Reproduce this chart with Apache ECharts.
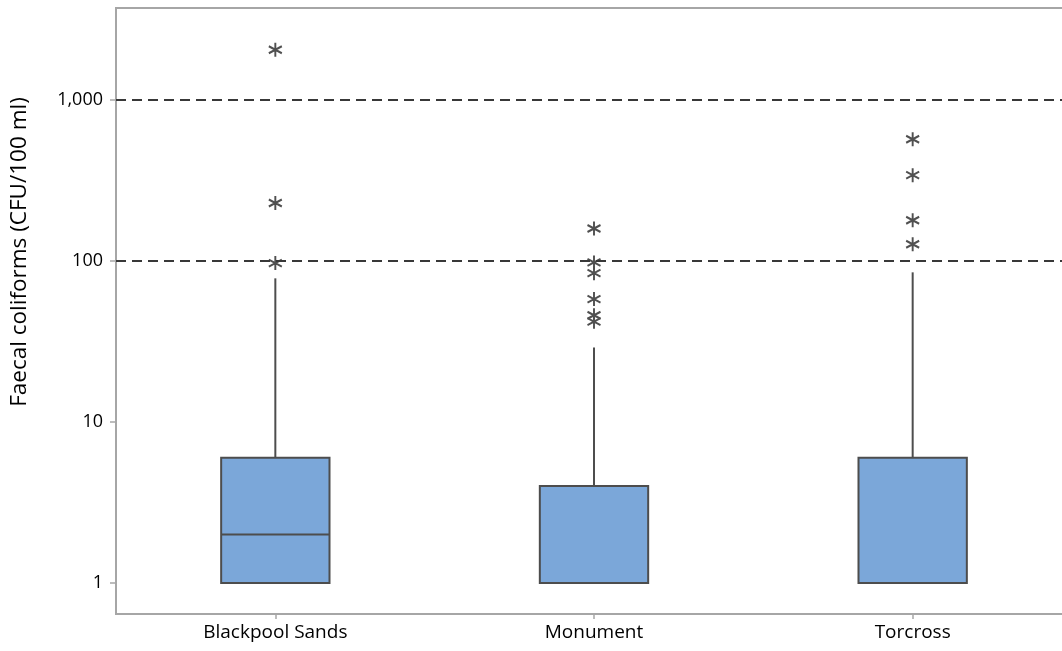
<!DOCTYPE html>
<html>
<head>
<meta charset="utf-8">
<style>
  html, body { margin: 0; padding: 0; background: #fff; overflow: hidden; }
  #chart { width: 1080px; height: 651px; }
</style>
<script src="https://cdn.jsdelivr.net/npm/echarts@6/dist/echarts.min.js"></script>
</head>
<body>
<div id="chart"></div>
<script>
// Sampling sites along the beach
const sites = ['Blackpool Sands', 'Monument', 'Torcross'];

// Box statistics per site: [lower whisker, Q1, median, Q3, upper whisker]
const boxStats = [
  [1, 1, 2, 6, 78],
  [1, 1, 1, 4, 29],
  [1, 1, 1, 6, 85]
];

// Outlying samples per site (CFU/100 ml)
const outliersBlackpool = [2050, 229, 97];
const outliersMonument = [159, 98, 84, 58, 46, 42];
const outliersTorcross = [570, 341, 179, 127];

// Guideline thresholds and labelled ticks on the log axis
const thresholds = [100, 1000];
const yTicks = [1, 10, 100, 1000];

const FONT = '"Open Sans", "Liberation Sans", sans-serif';
const FRAME = '#a6a6a6';
const INK = '#4d4d4d';

const boxData = boxStats.map((s, i) => [i].concat(s));
const outlierData = []
  .concat(outliersBlackpool.map(v => [0, v]))
  .concat(outliersMonument.map(v => [1, v]))
  .concat(outliersTorcross.map(v => [2, v]));

// Six-armed asterisk used for outliers
const asterisk = 'path://M0,-10L0,10M-8.66,-5L8.66,5M-8.66,5L8.66,-5';

function renderBox(params, api) {
  const idx = api.value(0);
  const lo = api.coord([idx, api.value(1)]);
  const q1 = api.coord([idx, api.value(2)]);
  const med = api.coord([idx, api.value(3)]);
  const q3 = api.coord([idx, api.value(4)]);
  const hi = api.coord([idx, api.value(5)]);
  const w = api.size([1, 0])[0] * 0.34;
  const x0 = q1[0] - w / 2;
  const stroke = { stroke: INK, lineWidth: 2, fill: null };
  const children = [
    { type: 'line', shape: { x1: q3[0], y1: q3[1], x2: hi[0], y2: hi[1] }, style: stroke },
    { type: 'line', shape: { x1: lo[0], y1: lo[1], x2: q1[0], y2: q1[1] }, style: stroke },
    { type: 'rect', shape: { x: x0, y: q3[1], width: w, height: q1[1] - q3[1] },
      style: { fill: '#7ba7d9', stroke: INK, lineWidth: 2 } },
    { type: 'line', shape: { x1: x0, y1: med[1], x2: x0 + w, y2: med[1] }, style: stroke }
  ];
  return { type: 'group', children: children };
}

const chart = echarts.init(document.getElementById('chart'), null, { renderer: 'canvas' });

chart.setOption({
  animation: false,
  backgroundColor: '#ffffff',
  grid: {
    left: 116, top: 8, width: 956, height: 606,
    show: true, borderColor: FRAME, borderWidth: 2, backgroundColor: 'transparent'
  },
  graphic: [{
    type: 'text',
    x: 20, y: 252,
    rotation: Math.PI / 2,
    style: {
      text: 'Faecal coliforms (CFU/100 ml)',
      font: '22.5px ' + FONT,
      fill: '#000',
      textAlign: 'center',
      textVerticalAlign: 'middle'
    }
  }],
  xAxis: {
    type: 'category',
    data: sites,
    boundaryGap: true,
    axisLine: { show: true, lineStyle: { color: FRAME, width: 2 } },
    axisTick: { show: true, alignWithLabel: true, length: 5, lineStyle: { color: FRAME, width: 1.5 } },
    axisLabel: { color: '#000', fontFamily: FONT, fontSize: 19, margin: 9 },
    splitLine: { show: false }
  },
  yAxis: {
    type: 'log',
    logBase: 10,
    min: 0.642,
    max: 3725,
    axisLine: { show: true, lineStyle: { color: FRAME, width: 2 } },
    axisTick: { show: true, length: 6, customValues: yTicks, lineStyle: { color: FRAME, width: 1.5 } },
    axisLabel: {
      customValues: yTicks,
      color: '#000', fontFamily: FONT, fontSize: 18, margin: 13,
      formatter: v => Number(v).toLocaleString('en-US')
    },
    splitLine: { show: false }
  },
  series: [
    {
      type: 'custom',
      data: boxData,
      renderItem: renderBox,
      encode: { x: 0, y: [1, 2, 3, 4, 5] },
      silent: true,
      z: 3
    },
    {
      type: 'scatter',
      data: outlierData,
      symbol: asterisk,
      symbolSize: [13, 14],
      itemStyle: { color: 'none', borderColor: '#505050', borderWidth: 2, opacity: 1 },
      silent: true,
      z: 4,
      markLine: {
        silent: true,
        symbol: 'none',
        label: { show: false },
        lineStyle: { color: '#383838', type: [10, 6], width: 2 },
        data: thresholds.map(t => ({ yAxis: t }))
      }
    }
  ]
});
</script>
</body>
</html>
